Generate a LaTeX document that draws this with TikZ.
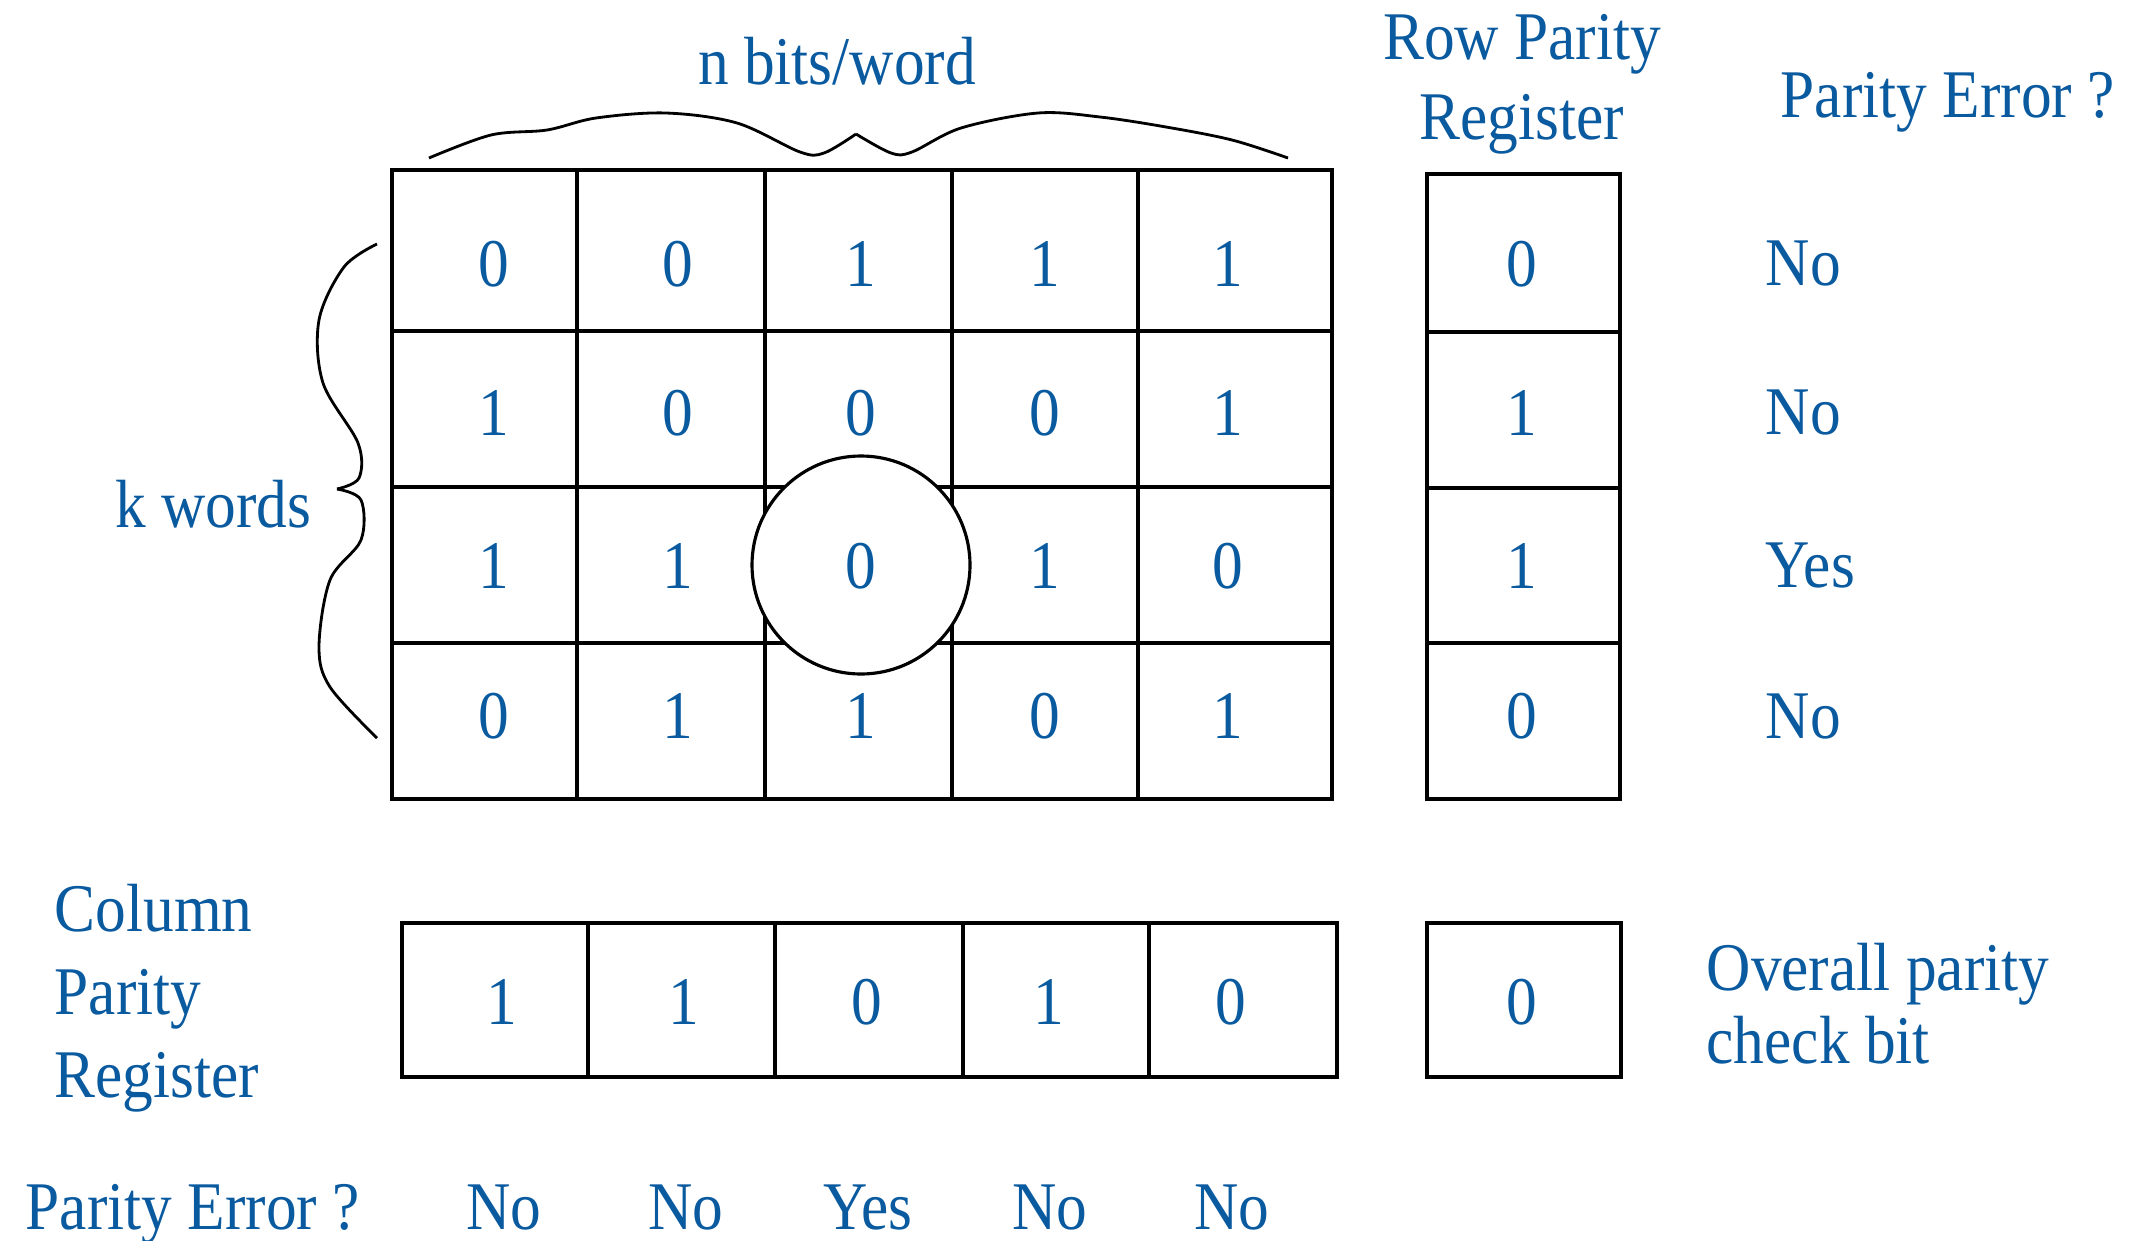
\documentclass[tikz,border=0pt]{standalone}
\usepackage{fontspec}
\setmainfont{Liberation Serif}[FakeStretch=0.9]
\usepackage{tikz}
\usepackage{xcolor}
\definecolor{ink}{RGB}{10,90,160}

\begin{document}
\begin{tikzpicture}[x=0.1mm, y=-0.1mm,
    gridline/.style={line width=0.9pt, black},
    brace/.style={line width=0.8pt, black},
    lbl/.style={text=ink, inner sep=0pt, font=\fontsize{19.4}{23.5}\selectfont},
    bit/.style={lbl, anchor=center}]
    \useasboundingbox (0,0) rectangle (2135,1240);

    % Data words (k words x n bits)
    \draw[gridline] (392,170) rectangle (1332,799);
    \foreach \x in {577,765,952,1138} \draw[gridline] (\x,170) -- (\x,799);
    \foreach \y in {331,487,643} \draw[gridline] (392,\y) -- (1332,\y);

    % Row parity register
    \draw[gridline] (1427,174) rectangle (1620,799);
    \foreach \y in {332,488,643} \draw[gridline] (1427,\y) -- (1620,\y);

    % Column parity register and overall bit
    \draw[gridline] (402,923) rectangle (1337,1077);
    \foreach \x in {588,775,963,1149} \draw[gridline] (\x,923) -- (\x,1077);
    \draw[gridline] (1427,923) rectangle (1621,1077);

    % Circle round the bad bit
    \draw[gridline, fill=white] (861,565) circle[radius=10.9mm];

    % Braces
    \draw[brace] plot[smooth, tension=0.55] coordinates {(429,158) (491,135) (547,130) (596,118) (666,113) (737,123) (800,152) (824,153) (856,134)};
    \draw[brace] plot[smooth, tension=0.55] coordinates {(856,134) (891,153) (912,152) (961,128) (1038,113) (1100,117) (1166,127) (1232,140) (1288,158)};
    \draw[brace] plot[smooth, tension=0.55] coordinates {(377,244) (344,267) (319,320) (323,383) (358,443) (359,478) (337,489)};
    \draw[brace] plot[smooth, tension=0.55] coordinates {(337,489) (361,500) (361,540) (330,580) (319,647) (330,687) (377,738)};

    % Bits, one row per word
    \foreach \y/\bits/\rp/\err [count=\r] in {264/{0,0,1,1,1}/0/No, 413/{1,0,0,0,1}/1/No, 566/{1,1,0,1,0}/1/Yes, 716/{0,1,1,0,1}/0/No} {
        \foreach \b [count=\c] in \bits
            \node[bit] (b\r\c) at ({494+183.5*(\c-1)},\y) {\b};
        \node[bit] (rp\r) at (1522,\y) {\rp};
        \node[lbl, anchor=west] (rerr\r) at (1765,\y) {\err};
    }

    % Column parity bits
    \foreach \b/\e [count=\c] in {1/No, 1/No, 0/Yes, 1/No, 0/No} {
        \node[bit] (cp\c) at ({502+182.25*(\c-1)},1002) {\b};
        \node[lbl, anchor=base] (cerr\c) at ({504+182*(\c-1)},1229) {\e};
    }
    \node[bit] (ovr) at (1522,1002) {0};

    % Labels
    \node[lbl, anchor=base] (nbits) at (837,84) {n bits/word};
    \node[lbl, anchor=base east] (kwords) at (312,527) {k words};
    \node[lbl, anchor=base, align=center, font=\fontsize{19.4}{22.5}\selectfont] (rowreg) at (1522,139) {Row Parity\\Register};
    \node[lbl, anchor=base west] (rowerr) at (1780,117) {Parity Error ?};
    \node[lbl, anchor=base west, align=left, font=\fontsize{19.4}{23.6}\selectfont] (colreg) at (54,1097) {Column\\Parity\\Register};
    \node[lbl, anchor=base west, align=left, font=\fontsize{19.4}{20.5}\selectfont] (overall) at (1706,1063) {Overall parity\\check bit};
    \node[lbl, anchor=base west] (colerr) at (25,1229) {Parity Error ?};

\end{tikzpicture}
\end{document}
